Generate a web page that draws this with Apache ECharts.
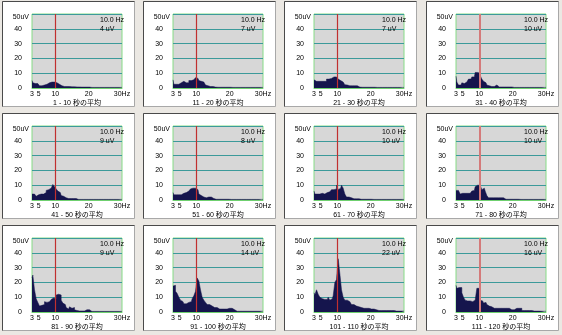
<!DOCTYPE html>
<html>
<head>
<meta charset="utf-8">
<script src="https://cdn.jsdelivr.net/npm/echarts@6/dist/echarts.min.js"></script>
<style>
  html, body { margin: 0; padding: 0; background: #ebe8e3; }
  #c { width: 562px; height: 335px; }
</style>
</head>
<body>
<div id="c"></div>
<script>
// Frequency bins (Hz) shared by every spectrum
const freqs = [3,3.5,4,4.5,5,5.5,6,6.5,7,7.5,8,8.5,9,9.5,10,10.5,11,11.5,12,12.5,13,13.5,14,14.5,15,15.5,16,16.5,17,17.5,18,18.5,19,19.5,20,20.5,21,21.5,22,22.5,23,23.5,24,24.5,25,25.5,26,26.5,27,27.5,28,28.5,29,29.5,30];
const xTickValues = [3, 5, 10, 20, 30];
const markerHz = 10;
const windowLabels = ['1 - 10','11 - 20','21 - 30','31 - 40','41 - 50','51 - 60','61 - 70','71 - 80','81 - 90','91 - 100','101 - 110','111 - 120'];

// Averaged amplitude (uV) per 10-second window
const s1  = [5,3.5,3,3,2,1.5,1.5,2,2.5,2.5, 3.5,4,4,4,4,3.5,2.5,1.5,1.5,1, 1,1,1,0.8,0.8,0.8,0.7,0.7,0.7,0.6, 0.6,0.6,0.6,0.6,0.6,0.5,0.4,0.4,0.4,0.4, 0.4,0.4,0.4,0.4,0.4,0.4,0.4,0.4,0.4,0.4, 0.4,0.4,0.4,0.4,0.4];
const s2  = [5.5,2.5,2.5,2.5,3.5,3.5,4.5,4.5,3.5,3.5, 5,5,5.5,5.5,7,6.5,5,4.5,4,3, 2,1.5,1,1,1,0.6,0.5,0.5,0.5,0.5, 0.5,0.5,0.5,0.5,0.5,0.5,0.4,0.4,0.4,0.4, 0.4,0.4,0.4,0.4,0.4,0.4,0.4,0.4,0.4,0.4, 0.4,0.4,0.4,0.4,0.4];
const s3  = [5.5,4.5,4.5,4.5,4.5,5,4.5,4.5,6,6, 6.5,6.5,7.5,7.5,7,6,5,4,3.5,2.2, 2,1.5,1.5,1.5,1.5,1.5,1.5,0.6,0.5,0.5, 0.5,0.5,0.5,0.5,0.5,0.5,0.5,0.4,0.4,0.4, 0.4,0.4,0.4,0.4,0.4,0.4,0.4,0.4,0.4,0.4, 0.4,0.4,0.4,0.4,0.4];
const s4  = [8,4,2,2,3.5,3,4,4,6,6, 7.5,7.5,10.5,10.5,10,8.5,6,4.5,3.5,2, 1.5,1,1,1,2,2,0.7,0.7,0.7,0.7, 0.7,0.7,0.7,0.7,0.7,0.4,0.4,0.4,0.4,0.4, 0.4,0.4,0.4,0.4,0.4,0.4,0.4,0.4,0.4,0.4, 0.4,0.4,0.4,0.4,0.4];
const s5  = [4,4,4,2.5,3.5,4,3,4,5,6.5, 7,8,9,10.5,9,7.5,6,5,3,2.5, 1.5,1.5,1,1,1,1,1,0.4,0.4,0.4, 0.4,0.4,0.4,0.4,0.4,0.4,0.4,0.4,0.4,0.4, 0.4,0.4,0.4,0.4,0.4,0.4,0.4,0.4,0.4,0.4, 0.4,0.4,0.4,0.4,0.4];
const s6  = [5,3.5,3.5,3.5,3,3.5,4.5,4.5,5,6, 7,7.5,8,8,8,7,4,3,2,1.5, 1.5,2,1,2,1,0.5,0.5,0.5,0.5,0.5, 0.5,0.5,0.5,0.5,0.5,0.4,0.4,0.4,0.4,0.4, 0.4,0.4,0.4,0.4,0.4,0.4,0.4,0.4,0.4,0.4, 0.4,0.4,0.4,0.4,0.4];
const s7  = [6,4,4,4,4,4.5,4,4,5,5.5, 6.5,7,7,7.5,10,7,8,10,8,4, 2,2,1.5,1.5,0.8,0.8,0.8,0.8,0.5,0.5, 0.5,0.5,0.5,0.5,0.5,0.4,0.4,0.4,0.4,0.4, 0.4,0.4,0.4,0.4,0.4,0.4,0.4,0.4,0.4,0.4, 0.4,0.4,0.4,0.4,0.4];
const s8  = [6.5,6.5,5.5,4,4.5,4.5,4.5,4.5,4.5,5, 6,6.5,9,10,10,9,7,8,6,3, 1.5,1.5,1.5,1.5,1.5,1.5,1.5,1.5,1.5,1.5, 0.5,0.5,0.5,0.5,0.5,0.5,0.5,0.5,0.4,0.4, 0.4,0.4,0.4,0.4,0.4,0.4,0.4,0.4,0.4,0.4, 0.4,0.4,0.4,0.4,0.4];
const s9  = [23,25,15,9,6.5,4,4.5,5,7,6.5, 7,8,8.5,9.5,9,11.5,12,11.5,8,6, 5,3,2,3.5,2.5,3,1.5,1,0.7,0.7, 0.7,0.7,1.5,1.5,1.5,1.5,0.4,0.4,0.4,0.4, 0.4,0.4,0.4,0.4,0.4,0.4,0.4,0.4,0.4,0.4, 0.4,0.4,0.4,0.4,0.4];
const s10 = [17.5,18,14,12.5,10,8,7,5.5,5.5,6.5, 7.5,7,9,11,14,23,21,15,10,8, 6.5,5,5,4,4,3,3,2.5,2,2, 2,2,2,2,2.5,2.5,2.5,1.5,0.5,0.5, 0.5,0.5,0.5,0.5,0.5,0.5,0.5,0.5,0.5,0.5, 0.5,0.5,0.5,0.5,0.5];
const s11 = [13,11.5,15,12,10,9,8.5,8.5,8.5,10, 8,9,11,20,22,36,26,15,10,8, 8,7,6.5,5,5,4,4,3.5,3,2.5, 2.5,2.5,2.5,2.5,2,2,2,1.5,1,1, 1,1,1,1,1,1,1,1,1,0.6, 0.6,0.6,0.6,0.6,0.6];
const s12 = [18,16,16.5,16.5,13,10,8,7.5,7.5,8, 7,8,9,16,16,8,7.5,6,6.5,5, 4,3.5,3,2.5,2.5,2.5,2.5,2.5,2.5,2.5, 2.5,2.5,2.5,1.5,1.5,1.5,2.5,2.5,2.5,2.5, 1,1,1,1,1,1,0.6,0.6,0.6,0.6, 0.6,0.5,0.5,0.5,0.5];
const spectra = [s1, s2, s3, s4, s5, s6, s7, s8, s9, s10, s11, s12];

const FONT = "'Liberation Sans', 'Noto Sans CJK JP', sans-serif";
const markerIndex = freqs.indexOf(markerHz);

const grids = [], xAxes = [], yAxes = [], series = [], titles = [], boxes = [];

spectra.forEach((vals, k) => {
  const col = k % 4, row = Math.floor(k / 4);
  const left = 32 + Math.round(141.2 * col);
  const top = 14 + 112 * row;
  const w = 90, h = 74;

  // white panel behind each spectrum
  const bx = left - 29.5, by = top - 12.5, bw = 132, bh = 105;
  boxes.push({
    type: 'rect', z: -10,
    shape: { x: bx, y: by, width: bw, height: bh },
    style: { fill: '#ffffff', stroke: '#a8a8a8', lineWidth: 1 }
  });
  boxes.push({
    type: 'polyline', z: -9,
    shape: { points: [[bx, by + bh], [bx, by], [bx + bw, by]] },
    style: { fill: null, stroke: '#4a4a4a', lineWidth: 1 }
  });

  grids.push({
    left: left, top: top, width: w, height: h,
    show: true, backgroundColor: '#d7d7d7',
    borderColor: '#86dc86', borderWidth: 1
  });

  xAxes.push({
    gridIndex: k, type: 'value', min: 3, max: 30,
    name: windowLabels[k] + ' 秒の平均',
    nameLocation: 'middle', nameGap: 12,
    nameTextStyle: { fontSize: 7, color: '#000', fontFamily: FONT },
    axisLine: { show: true, lineStyle: { color: '#6fd06f', width: 1 } },
    axisTick: { show: false },
    splitLine: { show: false },
    axisLabel: {
      customValues: xTickValues, margin: 3,
      fontSize: 7, color: '#000', fontFamily: FONT,
      formatter: v => (v === 30 ? '30Hz' : String(v))
    }
  });

  yAxes.push({
    gridIndex: k, type: 'value', min: 0, max: 50, interval: 10,
    name: '50uV', nameLocation: 'end', nameGap: -3,
    nameTextStyle: { fontSize: 7, color: '#000', fontFamily: FONT, align: 'right', verticalAlign: 'middle', padding: [0, 3, 0, 0] },
    axisLine: { show: false },
    axisTick: { show: false },
    splitLine: { show: true, lineStyle: { color: '#3c9a9a', width: 1 } },
    axisLabel: { margin: 10, fontSize: 7, color: '#000', fontFamily: FONT, showMaxLabel: false }
  });

  const redWide = col === 3;
  series.push({
    type: 'line', xAxisIndex: k, yAxisIndex: k,
    data: freqs.map((f, i) => [f, vals[i]]),
    step: 'middle', symbol: 'none', animation: false,
    lineStyle: { color: '#15154d', width: 0.5 },
    areaStyle: { color: '#15154d', opacity: 1 },
    markLine: {
      silent: true, symbol: 'none', animation: false,
      label: { show: false },
      lineStyle: { color: redWide ? '#d47a7a' : '#c03030', width: redWide ? 2 : 1.2, type: 'solid' },
      data: [{ xAxis: markerHz }]
    }
  });

  titles.push({
    text: markerHz.toFixed(1) + ' Hz\n' + vals[markerIndex] + ' uV',
    left: left + 68, top: top + 2, padding: 0,
    textStyle: { fontSize: 7, fontWeight: 'normal', color: '#000', fontFamily: FONT, lineHeight: 9 }
  });
});

const chart = echarts.init(document.getElementById('c'), null, { renderer: 'canvas' });
chart.setOption({
  backgroundColor: '#ebe8e3',
  animation: false,
  title: titles,
  graphic: { elements: boxes },
  grid: grids,
  xAxis: xAxes,
  yAxis: yAxes,
  series: series
});
</script>
</body>
</html>
